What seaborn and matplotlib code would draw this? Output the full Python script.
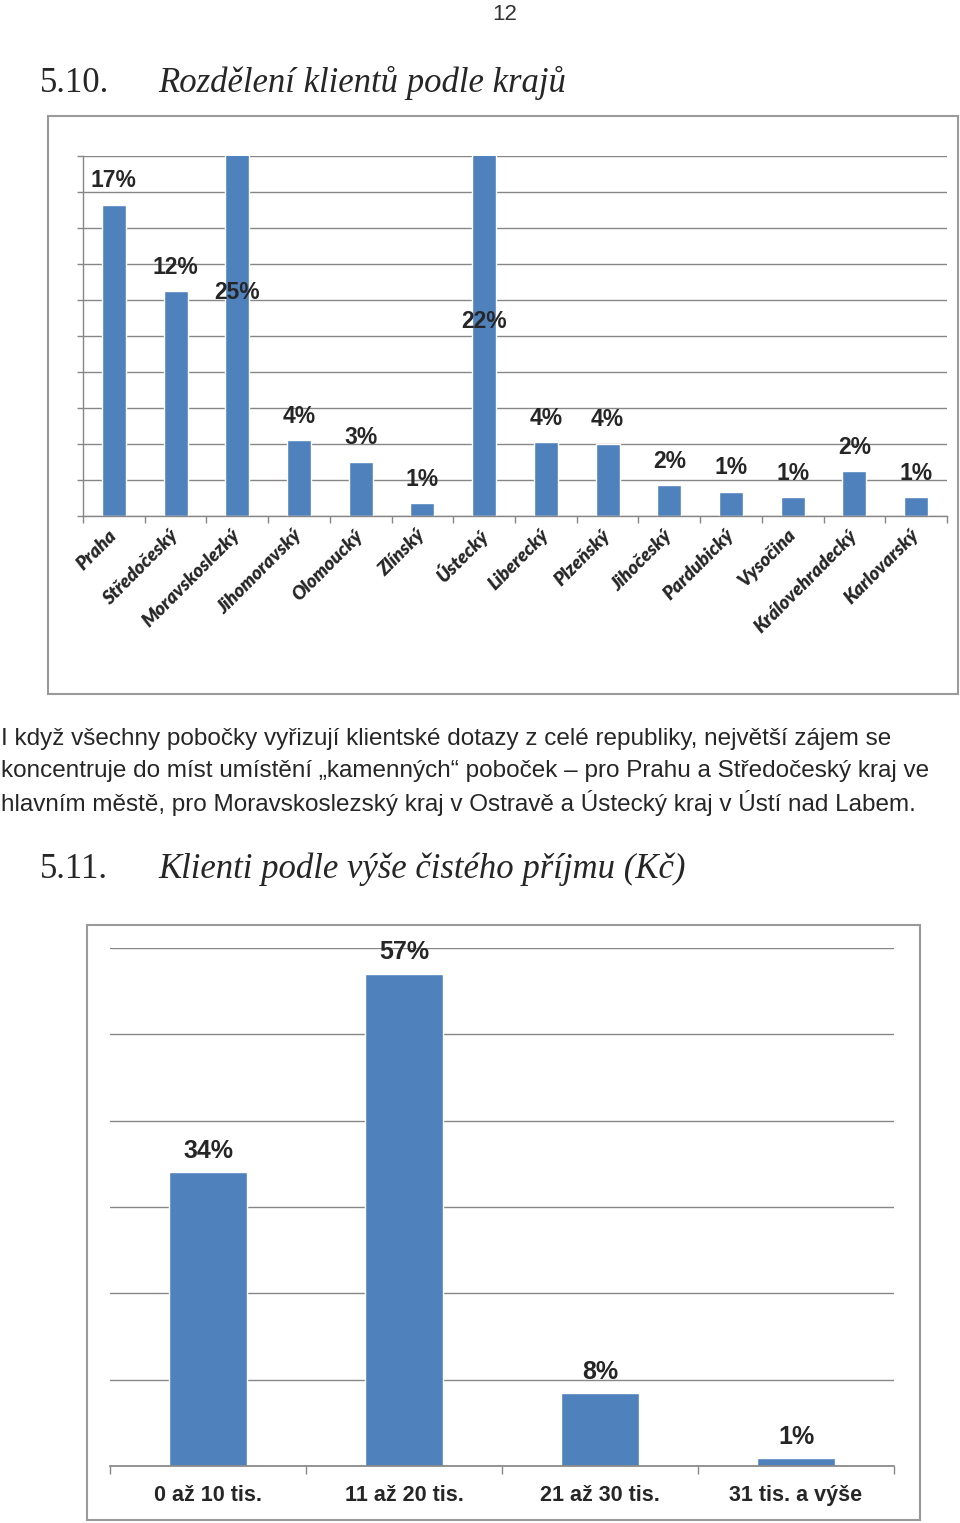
import seaborn as sns
import matplotlib.pyplot as plt
from matplotlib.patches import Rectangle
from matplotlib.ticker import MultipleLocator, FixedLocator, NullFormatter

# Data - chart 5.10 (regions)
regions = ['Praha', 'Středočeský', 'Moravskoslezký', 'Jihomoravský', 'Olomoucký',
           'Zlínský', 'Ústecký', 'Liberecký', 'Plzeňský', 'Jihočeský',
           'Pardubický', 'Vysočina', 'Královehradecký', 'Karlovarský']
region_share = [17.3, 12.5, 25, 4.2, 3.0, 0.7, 22, 4.1, 4.0, 1.7, 1.35, 1.05, 2.5, 1.05]
region_labels = ['17%', '12%', '25%', '4%', '3%', '1%', '22%', '4%', '4%', '2%',
                 '1%', '1%', '2%', '1%']

# Data - chart 5.11 (income)
income = ['0 až 10 tis.', '11 až 20 tis.', '21 až 30 tis.', '31 tis. a výše']
income_share = [34, 57, 8.4, 0.9]
income_labels = ['34%', '57%', '8%', '1%']

paragraph = [
    'I když všechny pobočky vyřizují klientské dotazy z celé republiky, největší zájem se',
    'koncentruje do míst umístění „kamenných“ poboček – pro Prahu a Středočeský kraj ve',
    'hlavním městě, pro Moravskoslezský kraj v Ostravě a Ústecký kraj v Ústí nad Labem.',
]

sns.set_theme(style='white')
plt.rcParams['font.family'] = ['Liberation Sans', 'DejaVu Sans']

W, H = 960, 1523
BLUE = '#4F81BD'
GRID = '#878787'
fig = plt.figure(figsize=(W / 100, H / 100), dpi=100)


def fy(y):
    return 1 - y / H


def px_axes(x0, y0, x1, y1):
    return fig.add_axes([x0 / W, fy(y1), (x1 - x0) / W, (y1 - y0) / H])


# page number and headings
fig.text(505 / W, fy(14), '12', ha='center', va='center', fontsize=16,
         color='#333333', fontweight='light')
fig.text(40 / W, fy(83), '5.10.', ha='left', va='center', fontsize=25,
         family='Liberation Serif')
fig.text(158 / W, fy(83), 'Rozdělení klientů podle krajů', ha='left', va='center',
         fontsize=25, family='Liberation Serif', style='italic')
fig.text(40 / W, fy(869), '5.11.', ha='left', va='center', fontsize=25,
         family='Liberation Serif')
fig.text(158 / W, fy(869), 'Klienti podle výše čistého příjmu (Kč)', ha='left',
         va='center', fontsize=25, family='Liberation Serif', style='italic')

for i, line in enumerate(paragraph):
    fig.text(1 / W, fy(739 + 32 * i), line, ha='left', va='center', fontsize=17.5)

# chart frames
fig.patches.append(Rectangle((48 / W, fy(694)), 910 / W, 578 / H, transform=fig.transFigure,
                             fill=False, edgecolor='#9A9A9A', linewidth=1.5))
fig.patches.append(Rectangle((87 / W, fy(1520)), 833 / W, 595 / H, transform=fig.transFigure,
                             fill=False, edgecolor='#9A9A9A', linewidth=1.5))

# ---- chart 1 ----
ax1 = px_axes(83, 156, 947, 516)
sns.barplot(x=regions, y=region_share, color=BLUE, saturation=1, width=0.39, ax=ax1)
ax1.set_ylim(0, 20)
ax1.set_xlim(-0.5, len(regions) - 0.5)
ax1.yaxis.set_major_locator(MultipleLocator(2))
ax1.yaxis.set_major_formatter(NullFormatter())
ax1.grid(axis='y', color=GRID, linewidth=1.0)
ax1.set_axisbelow(True)
for s in ['top', 'right']:
    ax1.spines[s].set_visible(False)
for s in ['left', 'bottom']:
    ax1.spines[s].set_color(GRID)
    ax1.spines[s].set_linewidth(1.0)
ax1.tick_params(axis='y', left=True, length=4, color=GRID, width=1.0)
ax1.xaxis.set_minor_locator(FixedLocator([i - 0.5 for i in range(len(regions) + 1)]))
ax1.tick_params(axis='x', which='minor', bottom=True, length=5, color=GRID, width=1.0)
ax1.tick_params(axis='x', which='major', length=0, pad=12)
ax1.set_xticks(range(len(regions)))
ax1.set_xticklabels(regions, rotation=45, ha='right', va='center', rotation_mode='anchor',
                    fontsize=13.5, fontweight='heavy', style='italic', family='Lato')
for t in ax1.get_xticklabels():
    t.set_x(0)
ax1.set_xlabel('')
ax1.set_ylabel('')

# labels of bars that leave the axis sit lower
clipped_label_y = {2: 12.4, 6: 10.8}
for i, (v, lab) in enumerate(zip(region_share, region_labels)):
    if i in clipped_label_y:
        ax1.text(i, clipped_label_y[i], lab, ha='center', va='center', fontsize=16.5,
                 fontweight='bold', clip_on=False)
    else:
        ax1.annotate(lab, (i, v), xytext=(0, 9), textcoords='offset points',
                     ha='center', va='bottom', fontsize=16.5, fontweight='bold')

# ---- chart 2 ----
ax2 = px_axes(110, 948, 894, 1466)
sns.barplot(x=income, y=income_share, color=BLUE, saturation=1, width=0.4, ax=ax2)
ax2.set_ylim(0, 60)
ax2.set_xlim(-0.5, len(income) - 0.5)
ax2.yaxis.set_major_locator(MultipleLocator(10))
ax2.yaxis.set_major_formatter(NullFormatter())
ax2.grid(axis='y', color=GRID, linewidth=1.0)
ax2.set_axisbelow(True)
for s in ['top', 'right', 'left']:
    ax2.spines[s].set_visible(False)
ax2.spines['bottom'].set_color(GRID)
ax2.tick_params(axis='y', left=False)
ax2.xaxis.set_minor_locator(FixedLocator([i - 0.5 for i in range(len(income) + 1)]))
ax2.tick_params(axis='x', which='minor', bottom=True, length=6, color=GRID, width=1.0)
ax2.tick_params(axis='x', which='major', length=0, pad=14)
ax2.set_xticks(range(len(income)))
ax2.set_xticklabels(income, fontsize=15.5, fontweight='bold',
                    family=['Liberation Sans Narrow', 'Liberation Sans'])
ax2.set_xlabel('')
ax2.set_ylabel('')
for i, (v, lab) in enumerate(zip(income_share, income_labels)):
    ax2.annotate(lab, (i, v), xytext=(0, 7), textcoords='offset points', ha='center',
                 va='bottom', fontsize=18, fontweight='bold',
                 family=['Liberation Sans Narrow', 'Liberation Sans'])

fig.savefig('out.png', dpi=100)
